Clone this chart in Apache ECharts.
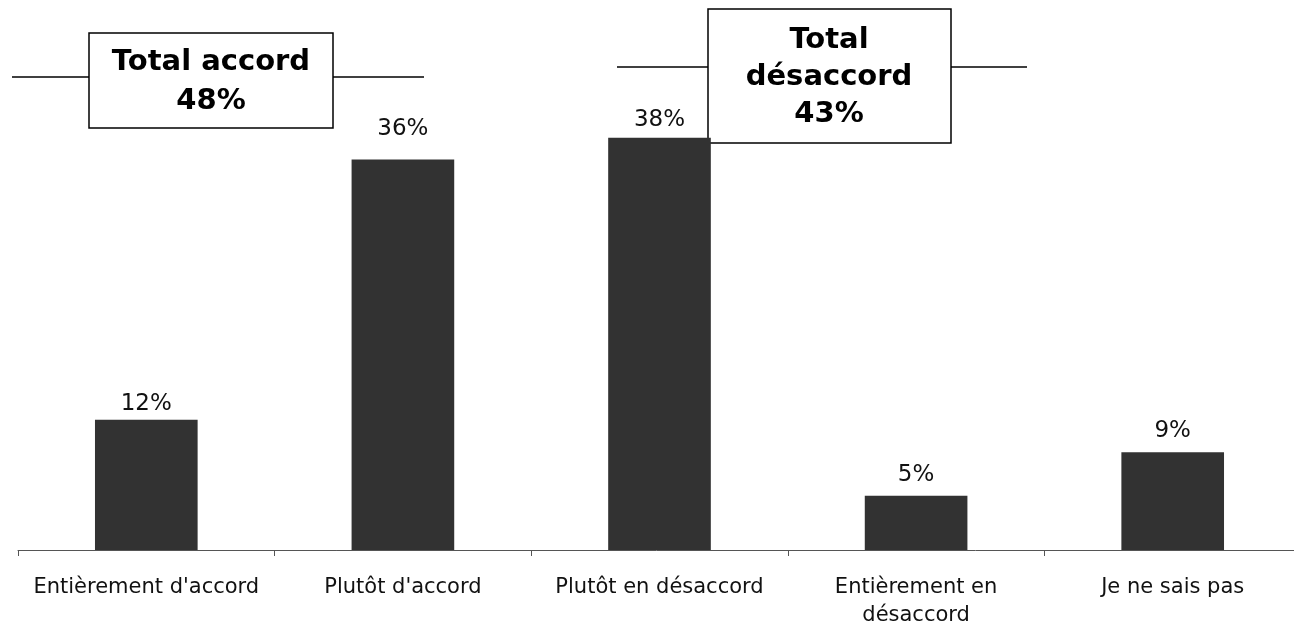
<!DOCTYPE html>
<html>
<head>
<meta charset="utf-8">
<script src="https://cdn.jsdelivr.net/npm/echarts@6/dist/echarts.min.js"></script>
<style>
  html, body { margin: 0; padding: 0; background: #fff; }
  #chart { width: 1294px; height: 628px; }
</style>
</head>
<body>
<div id="chart"></div>
<script>
// categories and values
var categories = ["Entièrement d'accord", "Plutôt d'accord", "Plutôt en désaccord", "Entièrement en\ndésaccord", "Je ne sais pas"];
var values = [12, 36, 38, 5, 9];

// totals shown in the boxes
var totalAccord = values[0] + values[1];
var totalDesaccord = values[2] + values[3];

// label gap above each bar (the original labels are not all at the same distance)
var labelGaps = [4, 19, 6, 9, 10];

var font = "'DejaVu Sans', Verdana, sans-serif";

var chart = echarts.init(document.getElementById('chart'));

var barData = values.map(function (v, i) {
  return { value: v, label: { distance: labelGaps[i] } };
});

var option = {
  animation: false,
  backgroundColor: '#fff',
  // the last category runs a little past the right edge in the original
  grid: { left: 18, top: 116, width: 1283, bottom: 78, outerBoundsMode: 'none', containLabel: false },
  xAxis: {
    type: 'category',
    data: categories,
    axisLine: { lineStyle: { color: '#555', width: 1 } },
    axisTick: { show: true, length: 6, lineStyle: { color: '#555' } },
    axisLabel: {
      color: '#111',
      fontFamily: font,
      fontSize: 21,
      margin: 24,
      lineHeight: 28,
      interval: 0
    }
  },
  yAxis: {
    type: 'value',
    min: 0,
    max: 40,
    show: false,
    splitLine: { show: false }
  },
  series: [{
    type: 'bar',
    data: barData,
    barWidth: '40%',
    itemStyle: { color: '#323232' },
    label: {
      show: true,
      position: 'top',
      formatter: '{c}%',
      color: '#111',
      fontFamily: font,
      fontSize: 23
    }
  }],
  graphic: [
    // Total accord
    { type: 'line', shape: { x1: 12, y1: 77, x2: 424, y2: 77 }, style: { stroke: '#000', lineWidth: 1.5 } },
    { type: 'rect', shape: { x: 89, y: 33, width: 244, height: 95 }, style: { fill: '#fff', stroke: '#000', lineWidth: 1.5 } },
    { type: 'text', x: 211, y: 82, style: {
        text: 'Total accord\n' + totalAccord + '%',
        align: 'center', verticalAlign: 'middle',
        font: 'bold 29px ' + font, fill: '#000', lineHeight: 39
      } },
    // Total désaccord
    { type: 'line', shape: { x1: 617, y1: 67, x2: 1027, y2: 67 }, style: { stroke: '#000', lineWidth: 1.5 } },
    { type: 'rect', shape: { x: 708, y: 9, width: 243, height: 134 }, style: { fill: '#fff', stroke: '#000', lineWidth: 1.5 } },
    { type: 'text', x: 829, y: 77, style: {
        text: 'Total\ndésaccord\n' + totalDesaccord + '%',
        align: 'center', verticalAlign: 'middle',
        font: 'bold 29px ' + font, fill: '#000', lineHeight: 37
      } }
  ]
};

chart.setOption(option);
</script>
</body>
</html>
